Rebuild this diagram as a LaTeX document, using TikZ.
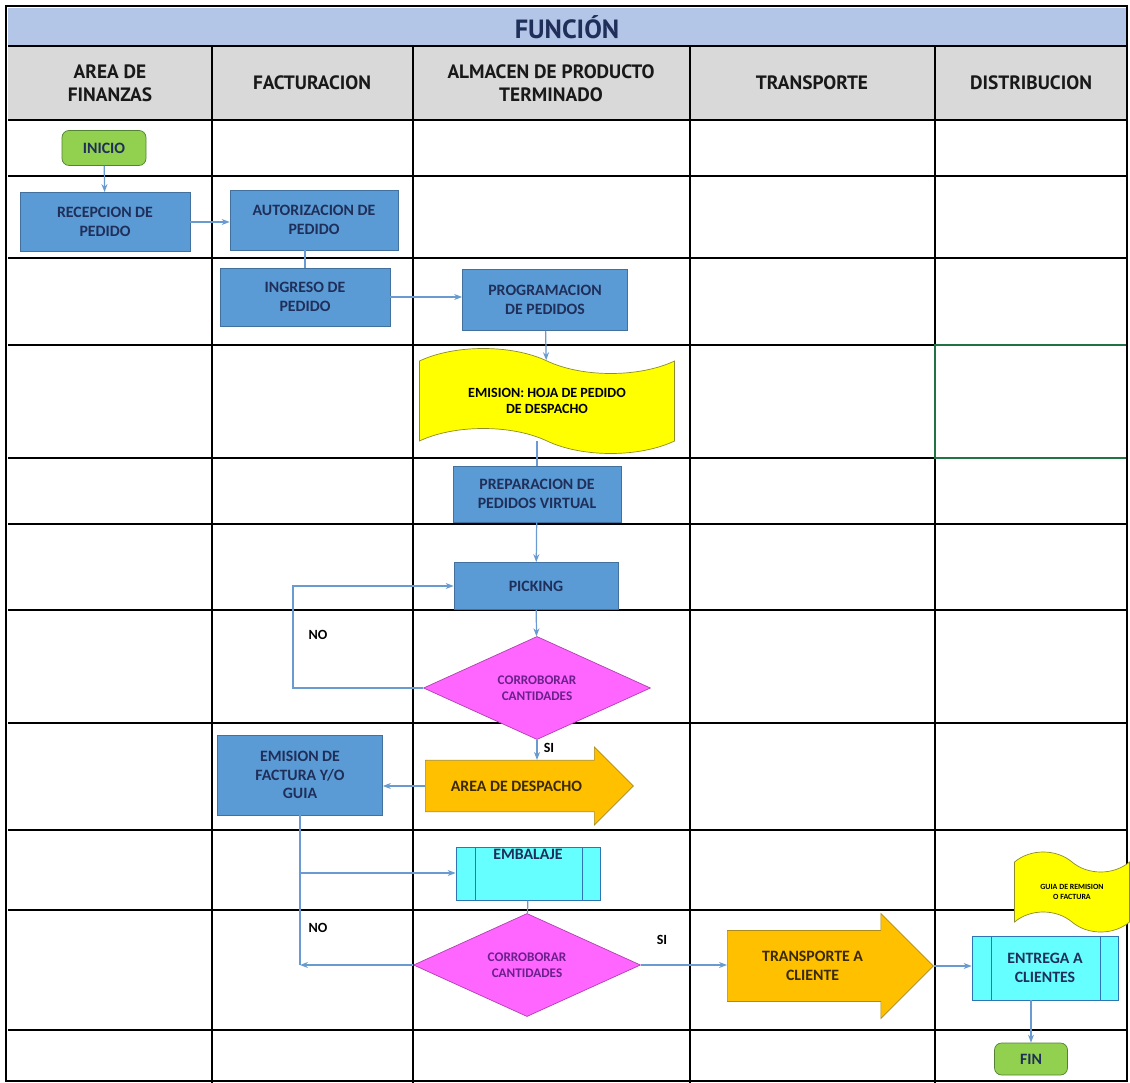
\documentclass[tikz,border=0pt]{standalone}
\usepackage{fontspec}
\setmainfont{Carlito}
\newfontfamily\hdfont{PT Sans}
\usetikzlibrary{shapes.geometric,shapes.symbols,shapes.arrows,arrows.meta}
\definecolor{bandblue}{HTML}{B4C6E7}
\definecolor{headgrey}{HTML}{D9D9D9}
\definecolor{boxblue}{HTML}{5B9BD5}
\definecolor{boxedge}{HTML}{41719C}
\definecolor{boxtext}{HTML}{1F2F5A}
\definecolor{termgreen}{HTML}{92D050}
\definecolor{termedge}{HTML}{548235}
\definecolor{chkpink}{HTML}{FF66FF}
\definecolor{chkedge}{HTML}{B040B0}
\definecolor{chktext}{HTML}{6A1F8A}
\definecolor{arrorange}{HTML}{FFC000}
\definecolor{arredge}{HTML}{A88A1E}
\definecolor{arrtext}{HTML}{3B2A00}
\definecolor{docyellow}{HTML}{FFFF00}
\definecolor{docedge}{HTML}{8C8C2A}
\definecolor{subcyan}{HTML}{66FFFF}
\definecolor{subedge}{HTML}{2E75B6}
\definecolor{linkc}{HTML}{6A9BD0}
\definecolor{selgreen}{HTML}{217346}
\tikzset{
  hd/.style={font=\hdfont\bfseries\fontsize{11}{13}\selectfont,align=center,text=black!90},
  pbox/.style={draw=boxedge,fill=boxblue,text=boxtext,align=center,inner sep=1pt,font=\bfseries\fontsize{9}{10.5}\selectfont},
  term/.style={draw=termedge,fill=termgreen,rounded corners=4pt,text=boxtext,inner sep=1pt,font=\bfseries\fontsize{9}{10.5}\selectfont},
  chk/.style={diamond,draw=chkedge,fill=chkpink,text=chktext,align=center,inner sep=0pt,minimum width=45.4mm,minimum height=20mm,font=\bfseries\fontsize{7.5}{9}\selectfont},
  bigarr/.style={single arrow,draw=arredge,fill=arrorange,text=arrtext,align=center,inner xsep=1pt,font=\bfseries\fontsize{9}{10.5}\selectfont},
  doc/.style={tape,tape bend top=out and in,tape bend bottom=out and in,tape bend height=5mm,draw=docedge,fill=docyellow,align=center,inner sep=1pt,font=\bfseries\fontsize{8}{9.5}\selectfont},
  sub/.style={draw=subedge,fill=subcyan,text=boxtext,align=center,inner sep=1pt,font=\bfseries\fontsize{9}{10.5}\selectfont,
    path picture={\draw[subedge] ([xshift=3.8mm]path picture bounding box.north west) -- ([xshift=3.8mm]path picture bounding box.south west);
                  \draw[subedge] ([xshift=-3.6mm]path picture bounding box.north east) -- ([xshift=-3.6mm]path picture bounding box.south east);}},
  yn/.style={font=\bfseries\fontsize{8}{9.5}\selectfont},
  flow/.style={-{Stealth[length=1.6mm]},linkc,line width=0.7pt},
  link/.style={linkc,line width=0.7pt},
  grid/.style={line width=1.5pt},
}
\begin{document}
\begin{tikzpicture}[x=0.2mm,y=-0.2mm]
\useasboundingbox (0,0) rectangle (1130,1083);
\fill[white] (0,0) rectangle (1130,1083);
\fill[bandblue] (8,8) rectangle (1127,46);
\fill[headgrey] (8,46) rectangle (1127,120);
\foreach \y in {46,120,176,258,345,458,524,610,723,830,910,1030} \draw[grid] (8,\y) -- (1127,\y);
\foreach \x in {212,413,690,935} \draw[grid] (\x,46) -- (\x,1083);
\draw[selgreen,line width=1.3pt] (935,345) rectangle (1127,458);
\draw[line width=1.6pt] (6,6) rectangle (1127,1081);

\node[hd,font=\hdfont\bfseries\fontsize{15}{17}\selectfont,text=boxtext] (funcion) at (567,27) {FUNCIÓN};
\node[hd] (hfin) at (110,83) {AREA DE\\FINANZAS};
\node[hd] (hfac) at (312,83) {FACTURACION};
\node[hd] (halm) at (551,83) {ALMACEN DE PRODUCTO\\TERMINADO};
\node[hd] (htra) at (812,83) {TRANSPORTE};
\node[hd] (hdis) at (1031,83) {DISTRIBUCION};

\node[term,minimum width=16.8mm,minimum height=7mm] (inicio) at (104,148) {INICIO};
\node[pbox,minimum width=34mm,minimum height=11.8mm] (recep) at (105,222) {RECEPCION DE\\PEDIDO};
\node[pbox,minimum width=33.6mm,minimum height=12mm] (autor) at (314,220) {AUTORIZACION DE\\PEDIDO};
\node[pbox,minimum width=34mm,minimum height=11.6mm] (ingreso) at (305,297) {INGRESO DE\\PEDIDO};
\node[pbox,minimum width=33mm,minimum height=12.2mm] (progr) at (545,300) {PROGRAMACION\\DE PEDIDOS};
\node[doc,minimum width=51mm,minimum height=21mm] (emis) at (547,401) {EMISION: HOJA DE PEDIDO\\DE DESPACHO};
\node[pbox,minimum width=33.6mm,minimum height=11.2mm] (prep) at (537,494) {PREPARACION DE\\PEDIDOS VIRTUAL};
\node[pbox,minimum width=32.8mm,minimum height=9.4mm] (picking) at (536,586) {PICKING};
\node[chk] (corr1) at (537,688) {CORROBORAR\\CANTIDADES};
\node[bigarr,anchor=west,minimum height=41.6mm,minimum width=15.6mm,inner ysep=10.6pt,text height=6pt,text depth=0pt] (areadesp) at (425,786) {AREA DE DESPACHO};
\node[pbox,minimum width=33mm,minimum height=16mm] (factura) at (300,775) {EMISION DE\\FACTURA Y/O\\GUIA};
\node[sub,minimum width=28.8mm,minimum height=10.4mm,text depth=22pt] (embalaje) at (528,874) {EMBALAJE};
\node[chk] (corr2) at (527,965) {CORROBORAR\\CANTIDADES};
\node[bigarr,anchor=west,minimum height=41.2mm,minimum width=21mm,inner ysep=6.5pt] (transp) at (727,966) {TRANSPORTE A\\CLIENTE};
\node[sub,minimum width=29.2mm,minimum height=12.8mm] (entrega) at (1045,968) {ENTREGA A\\CLIENTES};
\node[doc,minimum width=23mm,minimum height=16mm,tape bend height=4mm,font=\bfseries\fontsize{4.5}{5.5}\selectfont] (guia) at (1072,892) {GUIA DE REMISION\\O FACTURA};
\node[term,minimum width=14.6mm,minimum height=6.4mm] (fin) at (1031,1059) {FIN};

\node[yn] (no1) at (318,635) {NO};
\node[yn] (si1) at (549,748) {SI};
\node[yn] (no2) at (318,928) {NO};
\node[yn] (si2) at (662,940) {SI};

\coordinate (bk1) at (293,688); \coordinate (bk2) at (293,586);
\coordinate (fj) at (300,873); \coordinate (nj) at (300,965);

\draw[flow] (inicio) -- (recep); \draw[flow] (recep.east) -- (recep.east -| autor.west);
\draw[link] (autor.south -| ingreso.north) -- (ingreso.north); \draw[flow] (ingreso.east) -- (ingreso.east -| progr.west);
\draw[flow] (progr) -- (emis); \draw[link] (prep.north |- emis.south) -- (prep.north);
\draw[flow] (prep) -- (picking); \draw[flow] (picking) -- (corr1);
\draw[flow] (corr1.west) -- (bk1) -- (bk2) -- (picking.west);
\draw[flow] (corr1.south) -- (corr1.south |- areadesp.north);
\draw[flow] (areadesp.west) -- (areadesp.west -| factura.east);
\draw[link] (factura.south) -- (nj); \draw[flow] (fj) -- (fj -| embalaje.west);
\draw[link] (embalaje) -- (corr2); \draw[flow] (corr2.west) -- (nj);
\draw[flow] (corr2.east) -- (corr2.east -| transp.west);
\draw[flow] (transp.tip) -- (transp.tip -| entrega.west);
\draw[flow] (fin.north |- entrega.south) -- (fin.north);
\end{tikzpicture}
\end{document}
